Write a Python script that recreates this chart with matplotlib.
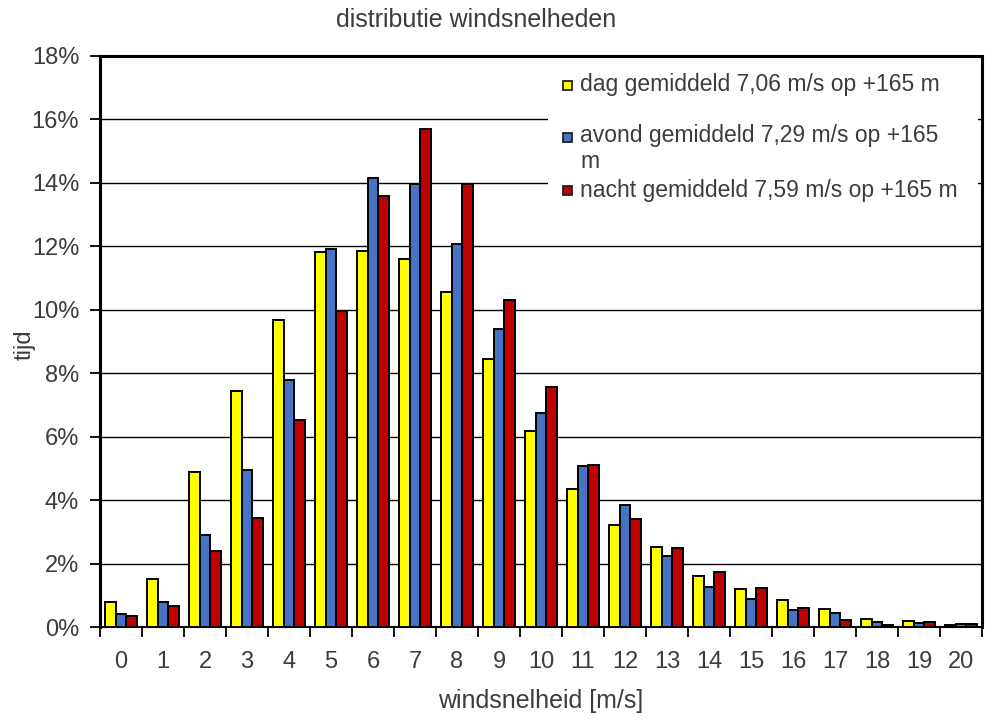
import numpy as np
import matplotlib
matplotlib.use("Agg")
import matplotlib.pyplot as plt
from matplotlib.patches import Rectangle
from matplotlib.ticker import FuncFormatter, MultipleLocator

plt.rcParams['font.family'] = ['Liberation Sans', 'DejaVu Sans']
TXT = "#3c3c3c"

# windsnelheid klassen [m/s]
speeds = list(range(21))

# fractie van de tijd per klasse (%)
dag = [0.79, 1.51, 4.90, 7.45, 9.69, 11.82, 11.86, 11.60, 10.57, 8.46, 6.19,
       4.34, 3.20, 2.53, 1.60, 1.20, 0.85, 0.57, 0.25, 0.19, 0.06]
avond = [0.41, 0.79, 2.90, 4.94, 7.80, 11.92, 14.15, 13.96, 12.08, 9.40, 6.76,
         5.06, 3.85, 2.23, 1.26, 0.88, 0.53, 0.44, 0.16, 0.12, 0.10]
nacht = [0.35, 0.66, 2.39, 3.43, 6.54, 9.97, 13.58, 15.69, 13.95, 10.31, 7.55,
         5.12, 3.40, 2.50, 1.73, 1.23, 0.60, 0.22, 0.06, 0.16, 0.10]

labels = ["dag gemiddeld 7,06 m/s op +165 m",
          "avond gemiddeld 7,29 m/s op +165\nm",
          "nacht gemiddeld 7,59 m/s op +165 m"]
colors = ["#FFFF00", "#4673C4", "#C00000"]

W, H = 985, 720
fig = plt.figure(figsize=(W / 100, H / 100), dpi=100)
ax = fig.add_axes([100 / W, 1 - 627 / H, 882 / W, 571 / H])

def fx(px):
    return px / W

def fy(py):
    return 1 - py / H

x = np.arange(len(speeds))
w = 0.25
for i, (vals, col) in enumerate(zip([dag, avond, nacht], colors)):
    ax.bar(x + (i - 1) * w, vals, width=w, color=col, edgecolor="black",
           linewidth=1.4, zorder=3)

ax.set_xlim(-0.5, 20.5)
ax.set_ylim(0, 18)
ax.yaxis.set_major_locator(MultipleLocator(2))
ax.yaxis.set_major_formatter(FuncFormatter(lambda v, p: f"{v:.0f}%"))
ax.grid(axis="y", color="black", linewidth=1.0, zorder=1)

# ticks tussen de klassen, labels in het midden
ax.set_xticks(np.arange(-0.5, 21, 1))
ax.set_xticklabels([])
ax.set_xticks(x, minor=True)
ax.set_xticklabels([str(s) for s in speeds], minor=True)
ax.tick_params(axis="x", which="major", length=7, width=1.3, direction="out")
ax.tick_params(axis="x", which="minor", length=0, pad=17, labelsize=17,
               labelcolor=TXT)
ax.tick_params(axis="y", length=7, width=1.3, labelsize=17, pad=8,
               labelcolor=TXT)

for s in ax.spines.values():
    s.set_linewidth(2.2)
ax.spines["bottom"].set_linewidth(1.5)

ax.set_xlabel("windsnelheid [m/s]", fontsize=18, labelpad=12, color=TXT)
fig.text(fx(25), fy(345), "tijd", rotation=90, ha="center", va="center",
         fontsize=17, color=TXT)
fig.text(fx(476), fy(20), "distributie windsnelheden", ha="center",
         va="center", fontsize=18, color=TXT, fontstretch="condensed",
         family=["Liberation Sans Narrow", "Liberation Sans", "DejaVu Sans"])

# legenda rechtsboven, witte achtergrond zonder rand
fig.patches.append(Rectangle((fx(548), fy(208)), fx(978) - fx(548),
                             fy(62) - fy(208), transform=fig.transFigure,
                             facecolor="white", edgecolor="none", zorder=4))
rows = [85, 148.5, 190]
marker_rows = [85, 137, 190]
for lab, col, ty, my in zip(labels, colors, rows, marker_rows):
    fig.patches.append(Rectangle((fx(563), fy(my + 4.5)), fx(9), 9 / H,
                                 transform=fig.transFigure, facecolor=col,
                                 edgecolor="#202020", linewidth=1.3, zorder=5))
    fig.text(fx(580), fy(ty), lab, ha="left", va="center", fontsize=16.5,
             color=TXT, linespacing=1.2, zorder=6)

fig.savefig("out.png", dpi=100)
